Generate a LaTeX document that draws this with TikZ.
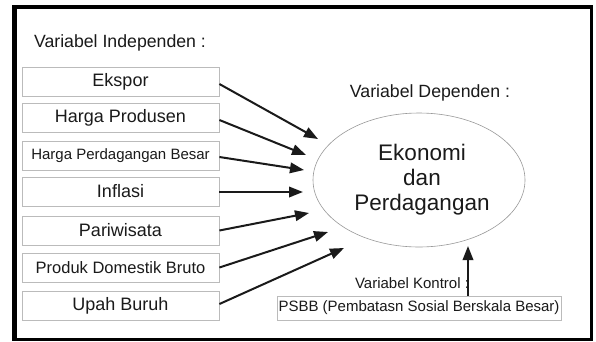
\documentclass[tikz,border=0pt]{standalone}
\usepackage{fontspec}
\setmainfont{Liberation Sans}
\usetikzlibrary{arrows.meta,shapes.geometric}
\definecolor{txt}{HTML}{1A1A1A}
\definecolor{boxline}{HTML}{BBBBBB}
\definecolor{elline}{HTML}{999999}
\tikzset{
  varbox/.style={draw=boxline, line width=0.8pt, minimum width=197pt, minimum height=29pt, inner sep=0pt, text=txt, anchor=center},
  big/.style={font=\fontsize{18}{20}\selectfont},
  lbl/.style={text=txt, inner sep=0pt},
  arr/.style={line width=2pt, draw=txt, -{Triangle[length=14pt,width=10.5pt]}}
}
\begin{document}
\begin{tikzpicture}[x=1pt,y=-1pt]
\useasboundingbox (0,0) rectangle (596,341);
\fill[black] (12,5) rectangle (593,341);
\fill[white] (17,9) rectangle (590,338);

\node[lbl, font=\fontsize{17.7}{20}\selectfont] (ind) at (120,43) {Variabel Independen :};

\node[varbox, big] (b1) at (120.5,81.5) {Ekspor};
\node[varbox, big] (b2) at (120.5,117.5) {Harga Produsen};
\node[varbox, font=\fontsize{15}{17}\selectfont] (b3) at (120.5,155.5) {Harga Perdagangan Besar};
\node[varbox, big] (b4) at (120.5,191.5) {Inflasi};
\node[varbox, big] (b5) at (120.5,230.5) {Pariwisata};
\node[varbox, font=\fontsize{16.5}{18}\selectfont] (b6) at (120.5,267.5) {Produk Domestik Bruto};
\node[varbox, big] (b7) at (120.5,306) {Upah Buruh};

\node[lbl, font=\fontsize{17.7}{20}\selectfont] (dep) at (430,93) {Variabel Dependen :};
\node[draw=elline, line width=0.6pt, ellipse, minimum width=212pt, minimum height=134pt, inner sep=0pt] (el) at (419,180) {};
\node[lbl, align=center, font=\fontsize{22.5}{25}\selectfont] (eltext) at (422,180) {Ekonomi\\dan\\Perdagangan};

\node[lbl, font=\fontsize{15}{17}\selectfont] (kon) at (412,283) {Variabel Kontrol :};
\node[draw=boxline, line width=0.8pt, minimum width=284pt, minimum height=24pt, inner sep=0pt, text=txt, font=\fontsize{15}{17}\selectfont] (psbb) at (419,308) {PSBB (Pembatasn Sosial Berskala Besar)};

\coordinate (t1) at (318,139);
\coordinate (t2) at (306,155);
\coordinate (t3) at (304,170);
\coordinate (t4) at (303,192);
\coordinate (t5) at (309,213);
\coordinate (t6) at (328,232);
\coordinate (t7) at (344,248);
\coordinate (t8) at (468,246);

\draw[arr] (b1.east |- 0,84) -- (t1);
\draw[arr] (b2.east |- 0,120) -- (t2);
\draw[arr] (b3.east |- 0,157) -- (t3);
\draw[arr] (b4.east |- 0,192) -- (t4);
\draw[arr] (b5.east) -- (t5);
\draw[arr] (b6.east) -- (t6);
\draw[arr] (b7.east |- 0,304) -- (t7);
\draw[arr] (psbb.north -| t8) -- (t8);
\end{tikzpicture}
\end{document}
